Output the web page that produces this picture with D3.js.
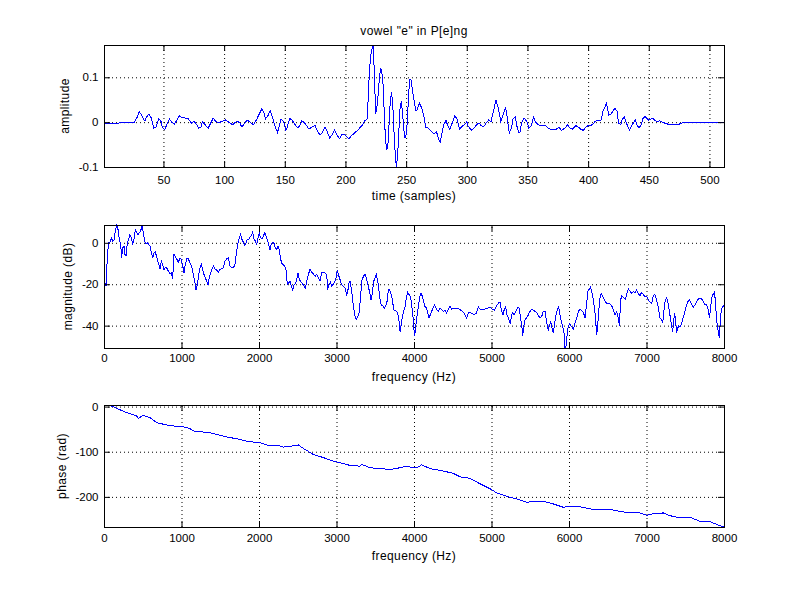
<!DOCTYPE html>
<html>
<head>
  <meta charset="utf-8">
  <title>vowel "e" in P[e]ng</title>
  <script src="https://cdn.jsdelivr.net/npm/d3@7"></script>
  <style>
    body { margin: 0; background: #fff; }
    svg { display: block; font-family: "Liberation Sans", Arial, Helvetica, sans-serif; }
    .tick text { font-size: 11.5px; fill: #000; }
    .label { font-size: 12px; letter-spacing: 0.4px; fill: #000; }
  </style>
</head>
<body>
<div id="container"></div>
<script>
const width = 800,
  height = 600;
const left = 104, right = 724;

// [sample, amplitude]
const waveform = [[1,-0.004],[12,-0.004],[14,-0.0015],[22,-0.0015],[26,0],[28,0.009],[30,0.023],[32,0.016],[34,0.005],[35,0.004],[36,0.011],[38,0.0185],[40,0.009],[42,-0.013],[44,-0.011],[46,0.008],[48,0.0015],[49,-0.011],[51,-0.017],[53,-0.004],[55,0.007],[57,-0.001],[59,-0.004],[61,0.004],[63,0.014],[65,0.011],[68,0.009],[70,0.009],[72,0.0015],[73,-0.002],[75,0.002],[77,-0.004],[79,-0.013],[81,-0.011],[82,0.0015],[85,-0.008],[87,-0.013],[89,-0.002],[91,0.009],[93,0.0015],[96,-0.001],[98,0.0015],[101,0.005],[103,0.0015],[105,-0.002],[107,-0.006],[109,-0.001],[111,0.002],[113,-0.002],[114,-0.008],[115,-0.0096],[117,-0.002],[119,0.004],[121,0.0015],[124,-0.006],[125,-0.002],[127,0.007],[129,0.0185],[131,0.029],[133,0.02],[134,0.007],[136,0.014],[138,0.025],[140,0.009],[142,-0.0096],[144,-0.023],[145,-0.013],[147,0.007],[149,0.0015],[151,-0.0185],[152,-0.011],[154,0.008],[156,0.005],[159,-0.008],[161,-0.0126],[163,-0.004],[164,0.003],[166,-0.001],[168,-0.008],[170,-0.0156],[173,-0.0096],[175,-0.008],[177,-0.021],[179,-0.028],[181,-0.023],[183,-0.011],[185,-0.021],[187,-0.0356],[189,-0.028],[191,-0.017],[193,-0.028],[195,-0.037],[197,-0.028],[199,-0.027],[201,-0.032],[203,-0.037],[205,-0.030],[208,-0.023],[211,-0.0156],[214,-0.006],[216,0.003],[217,0.005],[218,0.007],
  [219,0.072],[220,0.124],[221,0.150],[222,0.165],[223,0.172],[224,0.090],[225,0.019],[226,0.035],[227,0.064],[228,0.100],[229,0.120],[230,0.112],[231,0.085],[232,0.020],[233,-0.040],[234,-0.062],[235,-0.050],[236,-0.002],[237,0.050],[238,0.066],[239,0.040],[240,-0.020],[241,-0.070],[242,-0.100],[243,-0.075],[244,-0.020],[245,0.030],[246,0.046],[247,0.024],[248,-0.015],[249,-0.036],[250,-0.028],[251,0.000],[252,0.060],[253,0.095],[254,0.095],[255,0.075],[256,0.057],
  [258,0.026],[259,0.027],[261,0.042],[263,0.031],[265,0.009],[266,-0.011],[268,-0.013],[271,-0.021],[273,-0.027],[275,-0.021],[277,-0.039],[278,-0.045],[279,-0.032],[281,-0.006],[283,0.004],[284,-0.006],[286,-0.0156],[288,-0.002],[290,0.014],[292,0.007],[294,-0.0156],[296,-0.0096],[298,-0.006],[300,0.0007],[301,-0.008],[304,-0.0185],[306,-0.013],[308,-0.006],[310,-0.002],[312,-0.008],[314,-0.0096],[316,-0.002],[318,0.005],[320,0.0015],[322,0.024],[324,0.05],[326,0.031],[328,0.0015],[329,0.009],[332,0.033],[333,0.016],[335,-0.024],[337,-0.013],[338,0.007],[340,0.0126],[341,-0.006],[343,-0.024],[344,-0.021],[345,-0.002],[347,0.009],[348,0.007],[350,-0.001],[351,-0.013],[353,-0.008],[355,0.0104],[357,-0.001],[359,-0.006],[362,-0.008],[365,-0.008],[367,-0.013],[370,-0.017],[373,-0.017],[376,-0.011],[378,-0.019],[381,-0.013],[383,-0.006],[385,-0.013],[387,-0.0156],[390,-0.008],[392,-0.011],[394,-0.0156],[396,-0.0185],[398,-0.011],[400,-0.008],[402,-0.008],[404,-0.004],[406,0.002],[409,0.004],[411,0.005],[412,0.024],[414,0.035],[415,0.042],[416,0.031],[417,0.016],[419,0.0185],[421,0.027],[422,0.031],[424,0.024],[425,-0.002],[427,-0.006],[428,0.005],[430,0.0126],[431,0.0015],[433,-0.011],[434,-0.017],[436,-0.008],[438,0.0015],[439,0.005],[440,-0.006],[442,-0.013],[444,-0.004],[445,0.007],[447,0.0126],[448,0.009],[450,0.004],[452,0.007],[453,0.009],[455,0.004],[457,0.0015],[459,0.003],[462,-0.001],[465,-0.004],[468,-0.005],[475,-0.005],[476,-0.002],[484,-0.0015],[486,0],[512,0]];

// [frequency Hz, magnitude dB]
const magnitude = [[0,-18.6],[13,-19.4],[26,-21],[34,-13],[47,-4.9],[60,0],[77,0.3],[99,2.4],[112,0.8],[129,1.3],[146,5.6],[163,8.4],[181,6.4],[198,1.6],[215,-0.8],[228,-7.3],[241,-2.4],[258,-1.6],[271,-5.7],[284,-6.5],[301,0],[318,1.6],[335,4],[353,2.4],[370,-0.8],[387,1.6],[404,6.4],[421,4.8],[439,4],[456,4.8],[473,5.6],[490,8.6],[508,4.8],[525,0.8],[542,-0.3],[559,0],[576,-0.8],[594,-1.6],[611,-4.8],[628,-7.3],[645,-4.8],[662,-4.5],[680,-6.8],[701,-9.7],[723,-12.6],[740,-8.9],[757,-10.5],[774,-12.9],[791,-12.1],[809,-12.1],[830,-13.7],[852,-14.9],[869,-14.5],[886,-17.4],[903,-5.7],[920,-6.5],[938,-7.8],[959,-9.4],[981,-7.3],[998,-8.1],[1015,-11],[1032,-14.5],[1049,-10.5],[1067,-7.8],[1088,-7.8],[1110,-9.7],[1131,-11.3],[1153,-15.3],[1170,-18.6],[1187,-22.6],[1204,-20.2],[1222,-15.3],[1239,-12.1],[1256,-10.5],[1273,-12.9],[1290,-15.3],[1308,-16.9],[1325,-18.6],[1342,-20.2],[1359,-16.9],[1376,-14.5],[1394,-12.6],[1411,-11.3],[1432,-12.6],[1454,-13.2],[1475,-14.2],[1497,-12.9],[1518,-12.6],[1540,-12.1],[1561,-8.9],[1583,-7.8],[1604,-7.3],[1626,-11.3],[1647,-12.1],[1669,-12.1],[1690,-10.5],[1712,-4],[1729,0],[1746,2.4],[1763,4],[1781,1.6],[1798,0.3],[1815,-1.3],[1832,0],[1849,1.6],[1867,1.6],[1884,2.9],[1901,3.5],[1918,5.1],[1935,1.9],[1953,0.8],[1970,-0.8],[1987,2.4],[2004,4.5],[2022,2.4],[2039,1.9],[2056,3.2],[2073,4.8],[2090,3.5],[2108,1.3],[2125,-0.8],[2142,-3.6],[2159,-0.3],[2176,0.3],[2194,-0.3],[2211,-2.4],[2228,-3.2],[2245,-1.6],[2262,-3.2],[2280,-8.1],[2297,-10],[2314,-10.5],[2331,-11.3],[2348,-12.9],[2366,-20.2],[2383,-19.4],[2400,-18.6],[2417,-21],[2434,-22.9],[2452,-20.2],[2469,-19.7],[2486,-17.8],[2503,-14.5],[2520,-17.8],[2538,-18.6],[2555,-19.4],[2581,-21],[2598,-21.8],
  [2615,-18.6],[2637,-15.3],[2658,-12.9],[2680,-14.2],[2702,-14.9],[2723,-16.2],[2745,-15.3],[2766,-17],[2788,-18.3],[2809,-14.5],[2831,-14.2],[2852,-14.5],[2874,-15.3],[2886,-22.6],[2904,-20.2],[2921,-19.1],[2938,-21],[2960,-19.9],[2981,-18.6],[2998,-16.2],[3011,-13.3],[3024,-15.3],[3046,-17.8],[3067,-20.2],[3089,-21],[3110,-21.8],[3132,-25],[3145,-23.4],[3162,-19.4],[3175,-18.6],[3196,-23.4],[3218,-30.7],[3239,-35.5],[3256,-37.1],[3274,-35.5],[3291,-33.9],[3308,-27.5],[3325,-18.6],[3347,-16.2],[3368,-15],[3390,-17.8],[3411,-21],[3433,-25],[3446,-27.5],[3463,-24.2],[3480,-18.6],[3497,-17],[3514,-15.3],[3532,-18.6],[3549,-23.4],[3566,-28.3],[3583,-30.4],[3600,-30.4],[3618,-31.5],[3635,-30.7],[3652,-28.3],[3669,-22.6],[3686,-22.6],[3704,-25],[3721,-27.5],[3738,-32.3],[3755,-32.6],[3772,-33.1],[3790,-33.9],[3807,-37.9],[3820,-42.8],[3833,-40],[3850,-35.5],[3867,-33.1],[3884,-31],[3901,-26.6],[3919,-23.9],[3936,-25],[3953,-25.8],[3970,-29.9],[3983,-33.9],[3996,-40.4],[4009,-45.2],[4022,-40.4],[4039,-35.5],[4056,-30.7],[4074,-25.8],[4091,-24.5],[4108,-25.8],[4125,-28.7],[4142,-30.7],[4160,-31.5],[4177,-33.6],[4194,-36.3],[4211,-34.7],[4228,-33.1],[4246,-31.5],[4263,-29.9],[4280,-31],[4297,-32.6],[4314,-33.1],[4336,-31.5],[4357,-32.3],[4379,-33.1],[4400,-32.6],[4422,-33.9],[4443,-32.3],[4465,-30.7],[4486,-32],[4508,-31.5],[4538,-31.5],[4564,-31.5],[4594,-32.3],[4624,-33.1],[4650,-34.2],[4680,-36.3],[4702,-33.9],[4727,-33.6],[4753,-34.2],[4779,-34.7],[4805,-33.9],[4831,-31],[4852,-32],[4874,-32],[4917,-32],[4951,-31.5],[4981,-31],[5011,-32],[5037,-32.6],[5067,-30.4],[5089,-29.1],[5110,-28.7],[5131,-33.1],[5149,-34.7],[5166,-32],[5183,-31],[5200,-34.7],[5226,-37.1],[5243,-39.1],[5260,-34.7],
  [5273,-33.9],[5291,-34.7],[5308,-33.6],[5325,-32.3],[5342,-31],[5359,-31.5],[5377,-37.1],[5390,-39.6],[5402,-45.2],[5415,-40.4],[5433,-37.1],[5454,-36.3],[5476,-34.7],[5497,-33.1],[5519,-32],[5540,-32.6],[5562,-33.1],[5583,-33.6],[5604,-35.2],[5626,-36.3],[5648,-35.5],[5669,-33.1],[5691,-33.1],[5704,-36.3],[5721,-40.4],[5734,-42],[5747,-40],[5764,-37.9],[5781,-41.2],[5798,-43.6],[5815,-38.7],[5833,-34.7],[5850,-32],[5867,-31],[5884,-34.7],[5901,-37.9],[5918,-40],[5936,-43.6],[5949,-50.8],[5962,-49.7],[5974,-45.2],[5987,-41.2],[6005,-39.1],[6022,-40],[6039,-40.7],[6056,-41.7],[6078,-38.7],[6099,-36.3],[6121,-33.1],[6142,-32.3],[6164,-32.6],[6185,-33.6],[6207,-36.3],[6228,-29.1],[6245,-23.4],[6263,-22.3],[6276,-21.3],[6288,-22.6],[6306,-25.5],[6323,-29.9],[6340,-35.5],[6357,-44.4],[6370,-40.4],[6383,-33.1],[6400,-26.6],[6417,-24.5],[6435,-25.8],[6452,-27.1],[6469,-28.3],[6486,-29.4],[6508,-29.4],[6529,-29.4],[6551,-30.4],[6572,-32.3],[6594,-34.7],[6615,-33.1],[6637,-36.3],[6650,-40.4],[6663,-29.9],[6675,-25.5],[6693,-26.1],[6710,-26.6],[6727,-27.1],[6744,-25],[6766,-22.3],[6787,-23.4],[6809,-24.5],[6830,-23.4],[6852,-24.2],[6873,-22.9],[6895,-24.5],[6916,-25.5],[6938,-23.9],[6959,-25],[6981,-26.1],[7003,-25.8],[7024,-27.5],[7045,-28.7],[7067,-29.1],[7088,-25.5],[7106,-25],[7123,-26.6],[7140,-29.1],[7157,-32.3],[7175,-36.3],[7192,-37.1],[7209,-38.7],[7226,-32.3],[7243,-27.5],[7261,-26.6],[7278,-29.1],[7295,-33.1],[7312,-37.1],[7325,-40.4],[7338,-42.8],[7351,-37.1],[7364,-33.9],[7377,-38.7],[7389,-43.6],[7402,-41.4],[7415,-40],[7432,-40.4],[7450,-39.6],[7467,-37.1],[7484,-34.7],[7501,-32.3],[7518,-29.9],[7536,-28.3],[7553,-27.5],[7570,-28.7],[7587,-29.9],[7604,-31],[7626,-29.9],[7647,-28.3],[7669,-27.1],[7690,-27.1],[7712,-27.1],[7733,-28.3],[7755,-29.9],[7777,-29.9],[7798,-32.3],[7811,-36.3],[7824,-32.3],[7841,-26.6],[7858,-25],[7875,-23.9],[7888,-27.5],[7901,-35.5],[7914,-40],[7927,-42.8],[7940,-46],[7953,-37.1],[7966,-32.3],[7983,-31],[8000,-29.9]];

// [frequency Hz, phase rad] (unwrapped)
const phase = [[0,3.5],[99,1],[163,-3.8],[292,-13.4],[421,-20.8],[443,-26],[507,-19.3],[594,-24.5],[680,-35.6],[809,-40.8],[895,-43],[1023,-44.5],[1110,-49],[1153,-54],[1239,-55.6],[1368,-57.8],[1454,-61.6],[1583,-67.4],[1712,-71.2],[1798,-74.9],[1884,-77.9],[2013,-80],[2142,-87.4],[2228,-85.2],[2314,-89.6],[2400,-88],[2508,-85],[2572,-92.6],[2701,-106],[2830,-113],[2959,-121],[3088,-126],[3174,-130.4],[3303,-132],[3325,-128],[3432,-135.6],[3561,-137],[3690,-139.5],[3776,-137],[3905,-132],[3991,-135.6],[4034,-135.6],[4099,-129],[4164,-134],[4250,-139.3],[4335,-141],[4422,-144.5],[4507,-148],[4594,-155.6],[4723,-159],[4852,-171],[4981,-182],[5067,-191],[5196,-198.7],[5325,-204.5],[5454,-212],[5540,-209.8],[5668,-209.8],[5797,-215.6],[5927,-223],[6013,-220.9],[6142,-222],[6271,-226.7],[6400,-228],[6529,-228],[6658,-232],[6787,-235.6],[6916,-235.6],[7002,-240.9],[7088,-237],[7217,-235.6],[7303,-241.6],[7432,-246.7],[7561,-245.3],[7690,-254.2],[7819,-255],[7948,-263.8],[8000,-266.7]];

const timeTicks = [50, 100, 150, 200, 250, 300, 350, 400, 450, 500];
const freqTicks = [0, 1000, 2000, 3000, 4000, 5000, 6000, 7000, 8000];
const ampTicks = [-0.1, 0, 0.1];
const dbTicks = [-40, -20, 0];
const radTicks = [-200, -100, 0];

var svg = d3.select("#container")
  .append("svg")
  .attr("width", width)
  .attr("height", height)
  .style("background-color", "white");

function drawPanel(p) {
  var g = svg.append("g");
  var h = p.bottom - p.top;

  var x = d3.scaleLinear().domain(p.xDomain).range([left, right]);
  var y = d3.scaleLinear().domain(d3.extent(p.data, function(d){ return d[1]; })).range([p.bottom, p.top]);

  // dotted grid
  g.append("g")
    .attr("transform", "translate(0," + p.bottom + ")")
    .call(d3.axisBottom(x).tickValues(p.xTicks).tickSize(-h).tickFormat(""))
    .call(function(s){ s.select(".domain").remove(); })
    .selectAll("line").attr("stroke-dasharray", "1,3");
  g.append("g")
    .attr("transform", "translate(" + left + ",0)")
    .call(d3.axisLeft(y).tickValues(p.yTicks).tickSize(-(right - left)).tickFormat(""))
    .call(function(s){ s.select(".domain").remove(); })
    .selectAll("line").attr("stroke-dasharray", "1,3");

  // signal, drawn without smoothing like the original screen plot
  g.append("path")
    .datum(p.data)
    .attr("fill", "none")
    .attr("stroke", "#0000ff")
    .attr("stroke-width", 1)
    .attr("shape-rendering", "crispEdges")
    .attr("d", d3.line().x(function(d){ return x(d[0]); }).y(function(d){ return y(d[1]); }));

  // ticks on all four sides, pointing inward
  g.append("g")
    .attr("transform", "translate(0," + p.bottom + ")")
    .call(d3.axisBottom(x).tickValues(p.xTicks).tickSize(-6).tickPadding(p.xPad).tickFormat(function(d){ return String(d); }))
    .call(function(s){ s.select(".domain").remove(); });
  g.append("g")
    .attr("transform", "translate(0," + p.top + ")")
    .call(d3.axisTop(x).tickValues(p.xTicks).tickSize(-6).tickFormat(""))
    .call(function(s){ s.select(".domain").remove(); });
  g.append("g")
    .attr("transform", "translate(" + left + ",0)")
    .call(d3.axisLeft(y).tickValues(p.yTicks).tickSize(-6).tickPadding(5.5).tickFormat(function(d){ return String(d); }))
    .call(function(s){ s.select(".domain").remove(); });
  g.append("g")
    .attr("transform", "translate(" + right + ",0)")
    .call(d3.axisRight(y).tickValues(p.yTicks).tickSize(-6).tickFormat(""))
    .call(function(s){ s.select(".domain").remove(); });

  g.append("rect")
    .attr("x", left + 0.5).attr("y", p.top + 0.5)
    .attr("width", right - left).attr("height", h)
    .attr("fill", "none").attr("stroke", "#000");

  g.append("text")
    .attr("class", "label")
    .attr("x", (left + right) / 2)
    .attr("y", p.bottom + 33)
    .attr("text-anchor", "middle")
    .text(p.xLabel);

  g.append("text")
    .attr("class", "label")
    .attr("transform", "translate(" + p.yLabelX + "," + ((p.top + p.bottom) / 2) + ") rotate(-90)")
    .attr("text-anchor", "middle")
    .text(p.yLabel);

  if (p.title) {
    g.append("text")
      .attr("class", "label")
      .attr("x", (left + right) / 2)
      .attr("y", p.top - 10.5)
      .attr("text-anchor", "middle")
      .text(p.title);
  }
}

drawPanel({ data: waveform, xDomain: [1, 512], xTicks: timeTicks, yTicks: ampTicks,
  top: 45, bottom: 167, xPad: 9, xLabel: "time (samples)", yLabel: "amplitude", yLabelX: 69,
  title: 'vowel "e" in P[e]ng' });
drawPanel({ data: magnitude, xDomain: [0, 8000], xTicks: freqTicks, yTicks: dbTicks,
  top: 225, bottom: 348, xPad: 6, xLabel: "frequency (Hz)", yLabel: "magnitude (dB)", yLabelX: 71.5 });
drawPanel({ data: phase, xDomain: [0, 8000], xTicks: freqTicks, yTicks: radTicks,
  top: 405, bottom: 527, xPad: 7, xLabel: "frequency (Hz)", yLabel: "phase (rad)", yLabelX: 65.5 });
</script>
</body>
</html>
